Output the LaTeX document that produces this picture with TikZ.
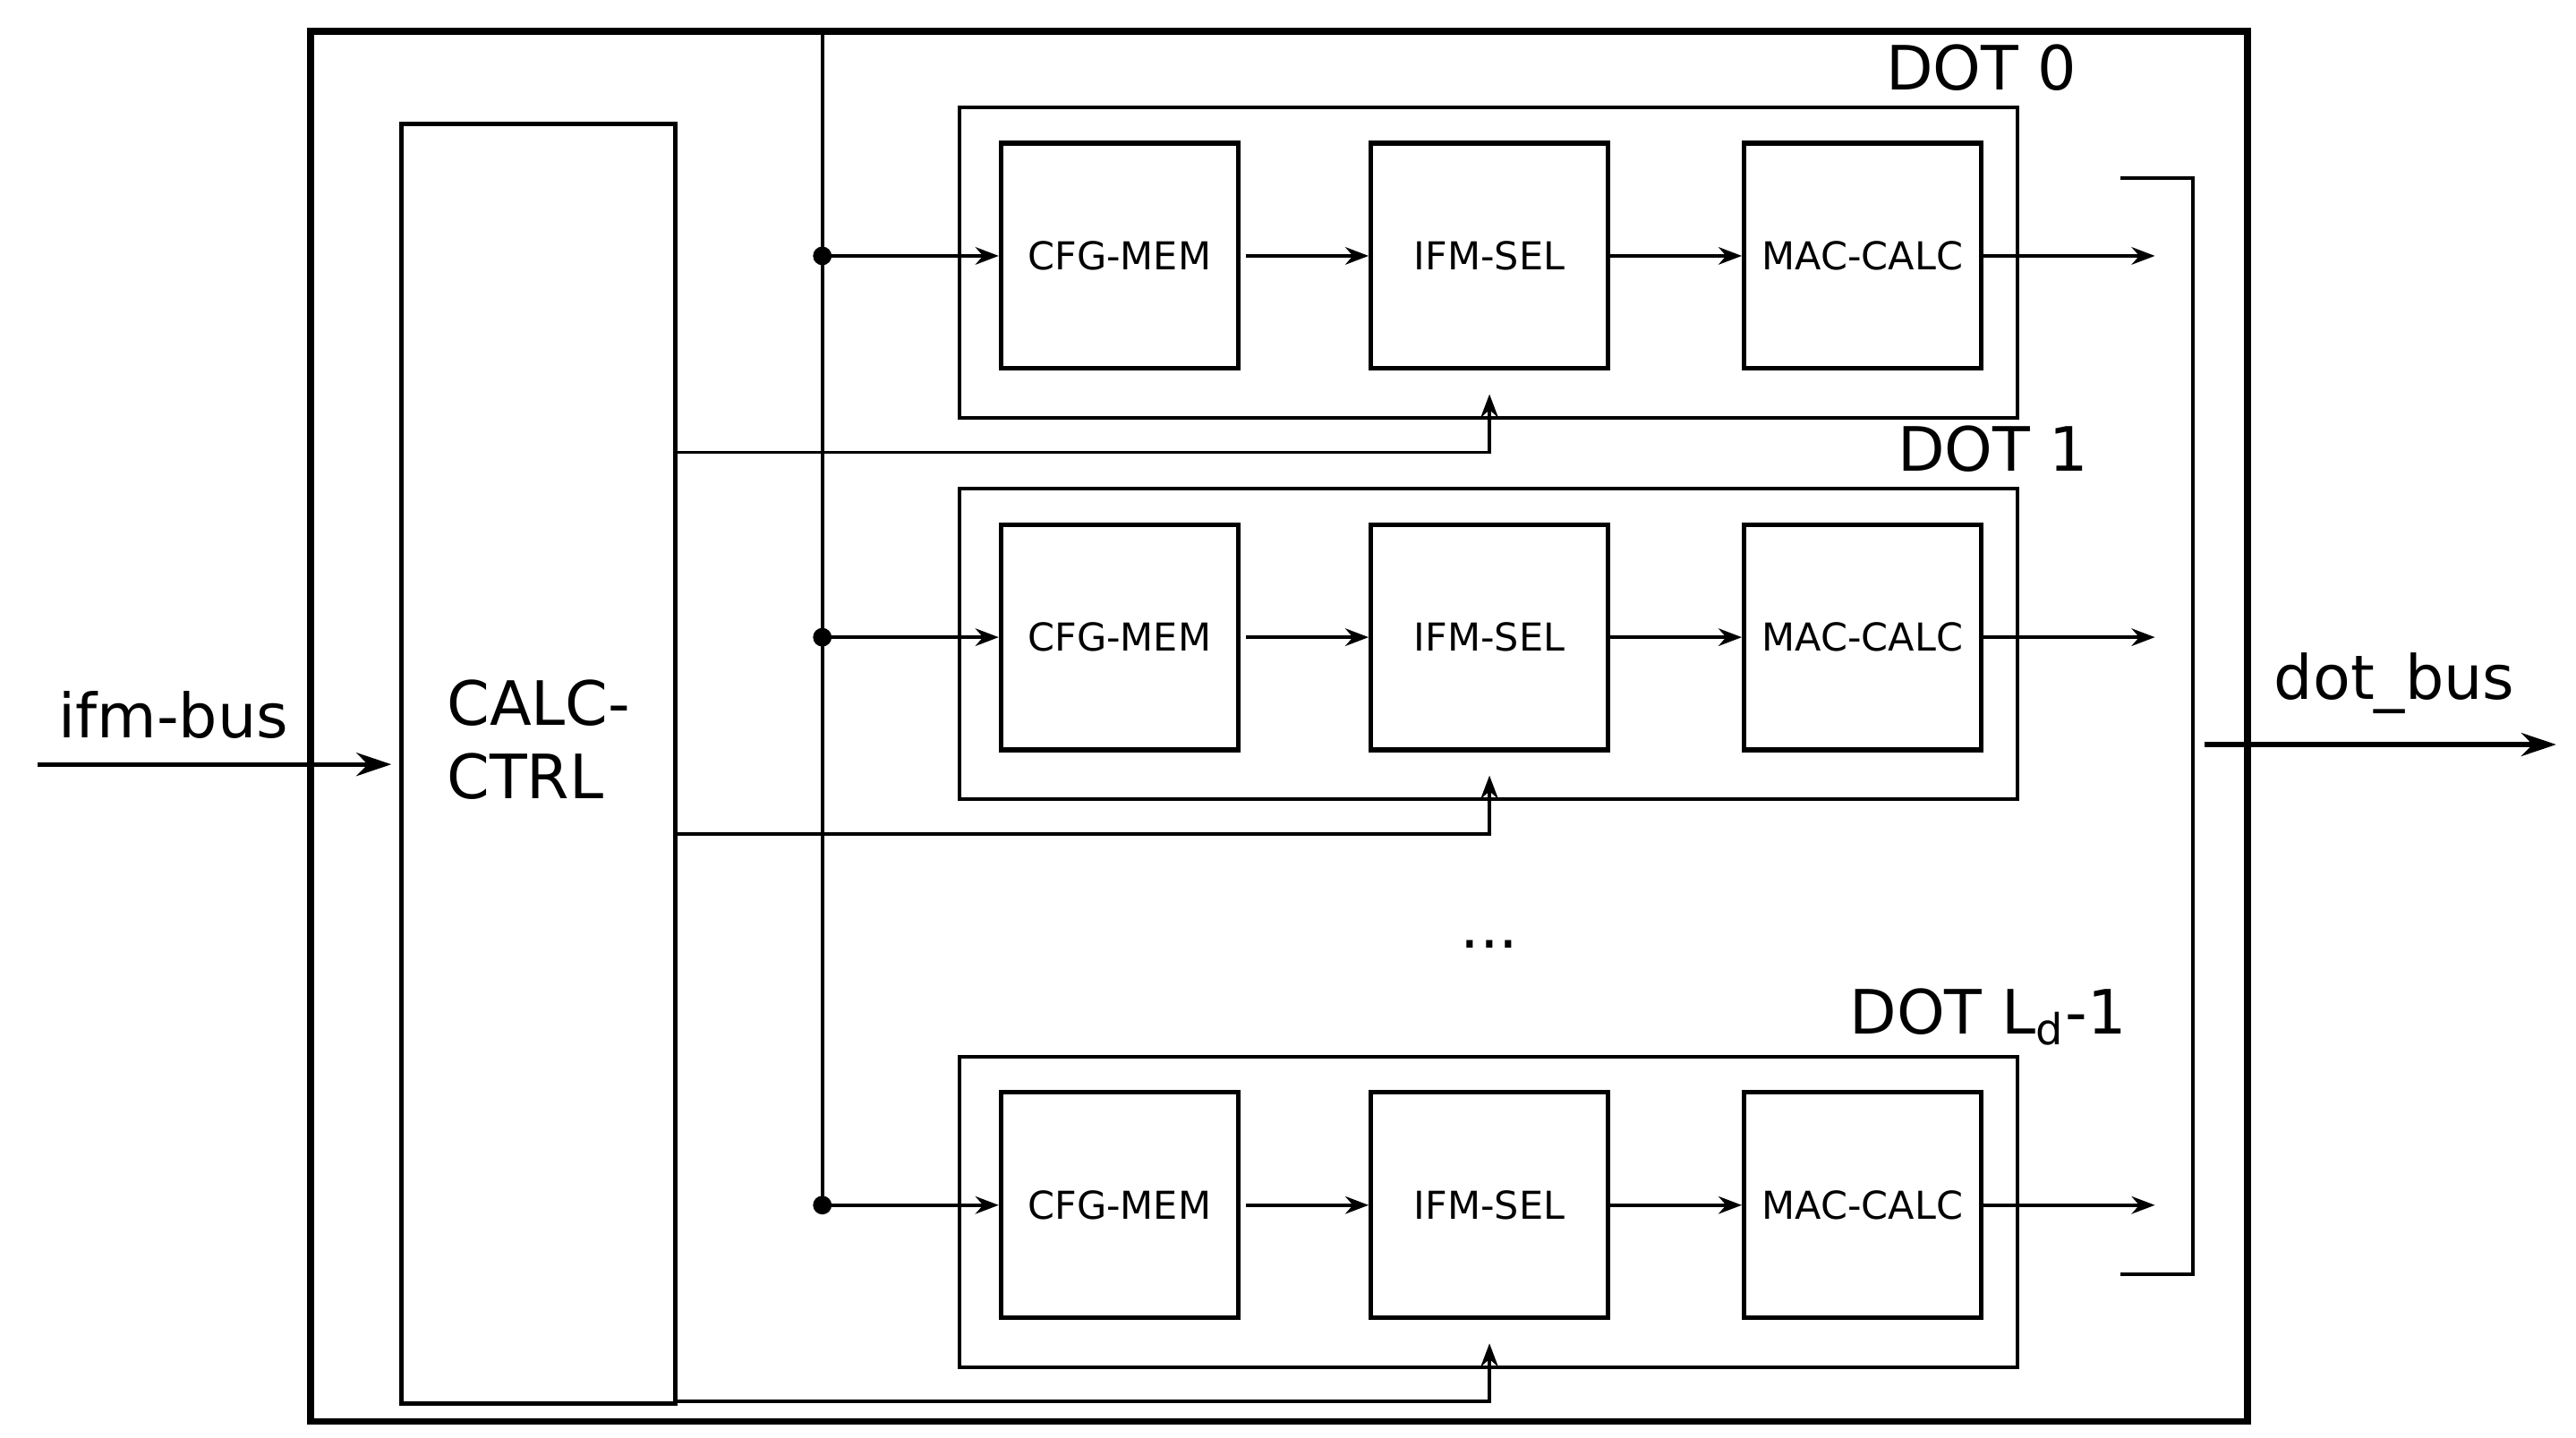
\documentclass[tikz,border=0pt]{standalone}
\usepackage{fontspec}
\setmainfont{DejaVu Sans}
\usetikzlibrary{arrows.meta}
\tikzset{
  blk/.style={draw, thick, minimum width=1.43cm, minimum height=1.36cm, inner sep=1pt, font=\fontsize{6.6}{8}\selectfont},
  dotbox/.style={draw, semithick},
  sig/.style={-{Stealth[length=4pt,width=3pt]}, semithick},
  bus/.style={-{Stealth[length=6pt,width=4pt]}, thick},
  lbl/.style={font=\fontsize{10.5}{12.5}\selectfont}
}
\begin{document}
\begin{tikzpicture}[x=0.00996cm,y=-0.00996cm]
  \useasboundingbox (0,0) rectangle (1560,871);
  % outer frame and controller
  \draw[very thick] (188,19) rectangle (1361,861);
  \draw[thick] (243,75) rectangle (409,850);
  \node[lbl, align=left, anchor=west, inner sep=0pt] (ctrl) at (270,448) {CALC-\\CTRL};
  \coordinate (busTop) at (498,19);
  \coordinate (busBot) at (498,733);
  \draw[semithick] (busTop) -- (busBot);
  % dot units
  \foreach \n/\top/\lab/\lx in {0/65/{DOT 0}/1200, 1/296/{DOT 1}/1207, 2/640/{DOT L\textsubscript{d}-1}/1204}{
    \pgfmathsetmacro{\mid}{\top+90}
    \pgfmathsetmacro{\ctl}{\top+209}
    \draw[dotbox] (581,\top) rectangle (1222,\top+188);
    \node[lbl] (dl\n) at (\lx,\top-24) {\lab};
    \node[blk] (cfg\n) at (678,\mid) {CFG-MEM};
    \node[blk] (ifm\n) at (902,\mid) {IFM-SEL};
    \node[blk] (mac\n) at (1128,\mid) {MAC-CALC};
    \coordinate (tap\n) at (498,\mid);
    \coordinate (out\n) at (1305,\mid);
    \coordinate (cl\n) at (409,\ctl);
    \fill (tap\n) circle (1.6pt);
    \draw[sig] (tap\n) -- (cfg\n);
    \draw[sig] ([xshift=1pt]cfg\n.east) -- (ifm\n);
    \draw[sig] (ifm\n) -- (mac\n);
    \draw[sig] (mac\n) -- (out\n);
    \draw[sig] (cl\n) -| ([yshift=-4pt]ifm\n.south);
  }
  \node[lbl] (more) at (902,572) {...};
  % output collector
  \coordinate (brA) at (1284,108);
  \coordinate (brB) at (1284,772);
  \draw[semithick] (brA) -- (1328,108) -- (1328,772) -- (brB);
  \coordinate (obStart) at (1335,451);
  \coordinate (obEnd) at (1548,451);
  \draw[bus] (obStart) -- (obEnd);
  \node[lbl] (ob) at (1450,414) {dot\_bus};
  \coordinate (ibStart) at (23,463);
  \coordinate (ibEnd) at (237,463);
  \draw[bus] (ibStart) -- (ibEnd);
  \node[lbl] (ib) at (105,433) {ifm-bus};
\end{tikzpicture}
\end{document}
